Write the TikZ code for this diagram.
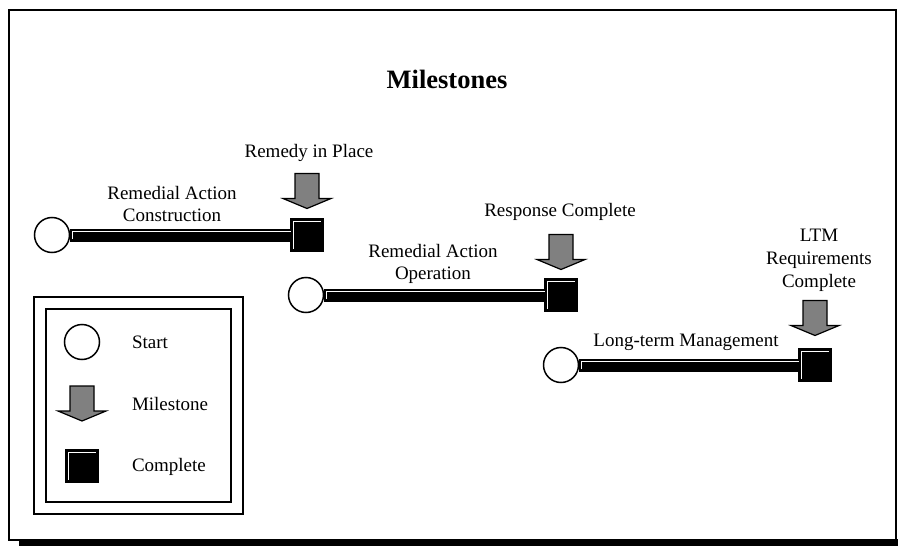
\documentclass[tikz,border=0pt]{standalone}
\usepackage{fontspec}
\setmainfont{Liberation Serif}
\definecolor{mile}{RGB}{128,128,128}
\usetikzlibrary{positioning}
\newcommand*{\labelfont}{\fontsize{19}{22}\selectfont}
\newcommand*{\milestone}[1]{\draw [milearrow] (#1) -- ++(-24,-10) -- ++(12,0) -- ++(0,-25) -- ++(24,0) -- ++(0,25) -- ++(12,0) -- cycle;}
\tikzstyle{base}=[x=1pt, y=-1pt, inner sep=0pt, outer sep=0pt]
\tikzstyle{startnode}=[circle, draw=black, fill=white, line width=1.5pt, minimum size=35pt]
\tikzstyle{donenode}=[rectangle, draw=black, fill=black, line width=1.5pt, minimum size=33pt,
    path picture={\draw [white, line width=1pt] ([shift={(3pt,3pt)}]path picture bounding box.south west) |- ([shift={(-3pt,-3pt)}]path picture bounding box.north east);}]
\tikzstyle{bar}=[black, line width=13pt]
\tikzstyle{barlight}=[white, line width=1pt]
\tikzstyle{milearrow}=[draw=black, fill=mile, line width=1.2pt, line join=miter]
\tikzstyle{labeltext}=[font=\labelfont, align=center]
\tikzstyle{frame}=[draw=black, line width=2pt]

\begin{document}
\begin{tikzpicture}[base]
    \useasboundingbox (0,0) rectangle (898,546);
    % outer frame
    \draw [frame] (9,10) rectangle (895.5,540);
    \fill [black] (19,539) rectangle (898,546);
    \node [font=\bfseries\fontsize{26.5}{30}\selectfont] (title) at (447,79) {Milestones};

    % phases
    \node [startnode] (startA) at (52,235) {};
    \node [donenode] (doneA) at (307,235) {};
    \node [startnode] (startB) at (306,295) {};
    \node [donenode] (doneB) at (561,295) {};
    \node [startnode] (startC) at (561,365) {};
    \node [donenode] (doneC) at (815,365) {};
    \draw [bar] (startA.east) -- (doneA.west);
    \draw [bar] (startB.east) -- (doneB.west);
    \draw [bar] (startC.east) -- (doneC.west);
    \draw [barlight] ([shift={(2.5pt,-4pt)}]startA.east) |- ([shift={(0pt,4pt)}]doneA.west);
    \draw [barlight] ([shift={(2.5pt,-4pt)}]startB.east) |- ([shift={(0pt,4pt)}]doneB.west);
    \draw [barlight] ([shift={(2.5pt,-4pt)}]startC.east) |- ([shift={(0pt,4pt)}]doneC.west);

    % milestones
    \coordinate (tipA) at ([yshift=10pt]doneA.north);
    \coordinate (tipB) at ([yshift=9pt]doneB.north);
    \coordinate (tipC) at ([yshift=13pt]doneC.north);
    \milestone{tipA}
    \milestone{tipB}
    \milestone{tipC}

    \node [labeltext] (constrText) at (172,204) {Remedial Action\\Construction};
    \node [labeltext] (remedyText) at (309,153) {Remedy in Place};
    \node [labeltext] (operText) at (433,264) {Remedial Action\\Operation};
    \node [labeltext] (responseText) at (560,212) {Response Complete};
    \node [labeltext] (longText) at (686,342) {Long-term Management};
    \node [labeltext, font=\fontsize{19}{23}\selectfont] (ltmText) at (819,260) {LTM\\Requirements\\Complete};

    % legend
    \draw [frame] (34,297) rectangle (243,514);
    \draw [frame] (46,309) rectangle (231,502);
    \node [startnode] (keyStart) at (82,342) {};
    \coordinate (keyTip) at (82,421);
    \milestone{keyTip}
    \node [donenode] (keyDone) at (82,466) {};
    \node [labeltext, anchor=west] (keyStartText) at (132,342) {Start};
    \node [labeltext, anchor=west] (keyMileText) at (132,404) {Milestone};
    \node [labeltext, anchor=west] (keyDoneText) at (132,467) {Complete};
\end{tikzpicture}
\end{document}
